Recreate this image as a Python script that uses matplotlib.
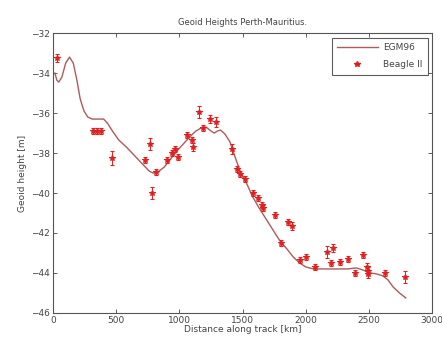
import matplotlib
matplotlib.use("Agg")
import matplotlib.pyplot as plt
from matplotlib.lines import Line2D

# EGM96 model curve (distance km, geoid height m)
egm_km = [15, 30, 45, 70, 100, 130, 160, 190, 215, 245, 275, 310, 350, 400, 430, 470,
          520, 580, 640, 700, 760, 790, 830, 880, 930, 980, 1030, 1080, 1130, 1170,
          1210, 1250, 1275, 1300, 1325, 1360, 1400, 1440, 1480, 1530, 1580, 1630,
          1690, 1740, 1790, 1850, 1900, 1950, 2000, 2060, 2150, 2250, 2330, 2400,
          2450, 2510, 2560, 2610, 2650, 2690, 2740, 2790]
egm_h = [-34.0, -34.35, -34.45, -34.2, -33.5, -33.2, -33.5, -34.4, -35.3, -35.9, -36.2,
         -36.3, -36.3, -36.3, -36.5, -36.9, -37.35, -37.7, -38.1, -38.5, -38.9, -39.0,
         -38.95, -38.7, -38.3, -37.9, -37.55, -37.2, -36.9, -36.75, -36.7, -36.9, -37.0,
         -36.9, -36.85, -37.05, -37.45, -38.2, -38.9, -39.5, -40.2, -40.75, -41.35,
         -41.85, -42.35, -42.8, -43.2, -43.5, -43.7, -43.8, -43.8, -43.8, -43.8, -43.75,
         -43.85, -44.0, -44.05, -44.15, -44.35, -44.7, -45.0, -45.25]

# Beagle II observations
beagle_km = [30, 320, 350, 380, 466, 727, 765, 782, 818, 905, 945, 965, 990, 1059, 1100,
             1110, 1154, 1186, 1240, 1290, 1415, 1454, 1478, 1518, 1581, 1621, 1652, 1662,
             1755, 1858, 1889, 1805, 1950, 2000, 2071, 2166, 2213, 2198, 2269, 2332, 2450,
             2387, 2482, 2495, 2495, 2625, 2783]
beagle_h = [-33.25, -36.9, -36.9, -36.9, -38.25, -38.35, -37.55, -40.0, -38.95, -38.35,
            -38.0, -37.8, -38.2, -37.1, -37.35, -37.7, -35.95, -36.75, -36.3, -36.45,
            -37.8, -38.8, -39.05, -39.3, -40.0, -40.25, -40.6, -40.75, -41.1, -41.45,
            -41.65, -42.5, -43.35, -43.2, -43.7, -42.95, -42.75, -43.5, -43.45, -43.3,
            -43.1, -44.0, -43.7, -43.9, -44.05, -44.0, -44.2]
beagle_err = [0.2, 0.15, 0.15, 0.15, 0.35, 0.15, 0.3, 0.3, 0.15, 0.15, 0.15, 0.15, 0.15,
              0.15, 0.15, 0.2, 0.3, 0.15, 0.2, 0.25, 0.25, 0.15, 0.15, 0.15, 0.15, 0.15,
              0.15, 0.15, 0.15, 0.15, 0.2, 0.15, 0.15, 0.15, 0.15, 0.3, 0.2, 0.15, 0.15,
              0.15, 0.15, 0.15, 0.2, 0.2, 0.2, 0.15, 0.3]

xticks = [0, 500, 1000, 1500, 2000, 2500, 3000]
yticks = [-46, -44, -42, -40, -38, -36, -34, -32]

plt.rcParams['font.family'] = ['DejaVu Sans']
fig = plt.figure(figsize=(4.42, 3.45), dpi=100)
ax = fig.add_axes([0.12, 0.093, 0.858, 0.811])

line_col = '#b05a5a'
pt_col = '#e02020'
txt_col = '#444444'

ax.plot(egm_km, egm_h, color=line_col, lw=1.0, label='EGM96')
ax.errorbar(beagle_km, beagle_h, yerr=beagle_err, fmt='*', color=pt_col, ms=4,
            mew=0.8, elinewidth=0.7, capsize=1.5, capthick=0.7, label='Beagle II')

ax.set_xlim(0, 3000)
ax.set_ylim(-46, -32)
ax.set_xticks(xticks)
ax.set_yticks(yticks)
ax.tick_params(direction='in', length=3, width=0.6, top=True, right=True,
               labelsize=6.5, colors=txt_col, pad=2)
for s in ax.spines.values():
    s.set_color('#555555')
    s.set_linewidth(0.8)

ax.set_title('Geoid Heights Perth-Mauritius.', fontsize=6, color=txt_col, pad=6)
ax.set_xlabel('Distance along track [km]', fontsize=6.5, color=txt_col, labelpad=0)
ax.set_ylabel('Geoid height [m]', fontsize=6.5, color=txt_col, labelpad=3)

handles = [Line2D([0], [0], color=line_col, lw=1.0),
           Line2D([0], [0], marker='*', color=pt_col, ls='none', ms=4)]
leg = ax.legend(handles, ['EGM96', 'Beagle II'], loc='upper right', fontsize=6.5,
                frameon=True, fancybox=False, edgecolor='#333333', handlelength=4.5,
                borderpad=0.6, labelspacing=0.9, borderaxespad=0.5, handletextpad=0.6)
leg.get_frame().set_linewidth(0.8)
for t in leg.get_texts():
    t.set_color(txt_col)

fig.savefig('out.png', dpi=100)
